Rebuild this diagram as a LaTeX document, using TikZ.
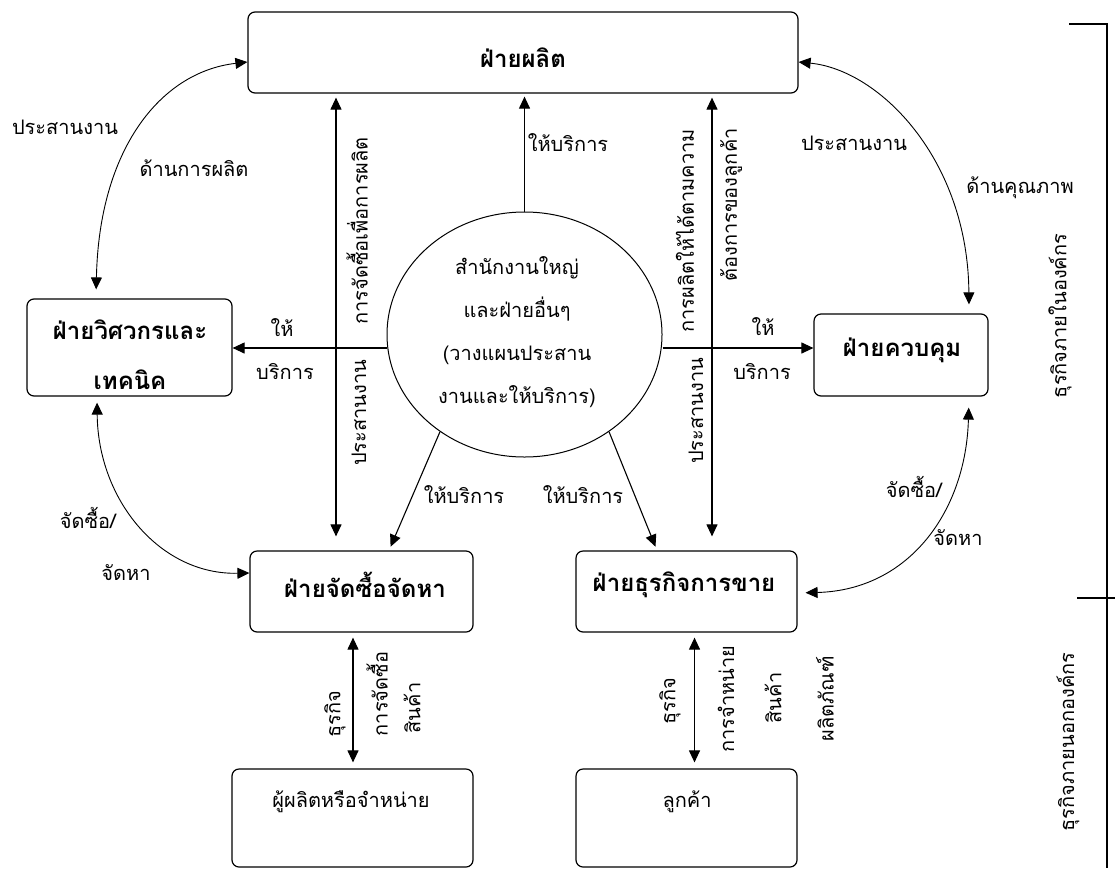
\documentclass[tikz,border=0pt]{standalone}
\usepackage{fontspec}
\usetikzlibrary{arrows.meta,shapes.geometric,calc}
\newfontfamily\thai[Script=Thai]{Loma}
\tikzset{
  hd/.tip={Triangle[length=12pt,width=11pt]},
  box/.style={draw,line width=1.2pt,rounded corners=7pt,inner sep=0pt},
  txt/.style={font=\thai\fontsize{20}{24}\selectfont,inner sep=0pt},
  btxt/.style={font=\thai\bfseries\fontsize{24}{28}\selectfont,inner sep=0pt},
  vtxt/.style={txt,rotate=90},
  link/.style={line width=1.1pt,-hd},
  twoway/.style={line width=1.1pt,hd-hd},
  curvelink/.style={line width=0.9pt,hd-hd},
  bracketline/.style={line width=1.3pt}
}
\begin{document}
\begin{tikzpicture}[x=1pt,y=-1pt]
\useasboundingbox (0,0) rectangle (1115,868);

% departments
\node[box,minimum width=550pt,minimum height=81pt] (prod) at (523,52.5) {};
\node[btxt] (prodt) at (523,58) {ฝ่ายผลิต};
\node[box,minimum width=205pt,minimum height=97pt] (eng) at (129.5,347.5) {};
\node[btxt] (engt1) at (130,330) {ฝ่ายวิศวกรและ};
\node[btxt] (engt2) at (130,380) {เทคนิค};
\node[box,minimum width=174pt,minimum height=82pt] (ctrl) at (901,355) {};
\node[btxt] (ctrlt) at (902,350) {ฝ่ายควบคุม};
\node[box,minimum width=223pt,minimum height=81pt] (pur) at (361.5,591.5) {};
\node[btxt] (purt) at (365,585) {ฝ่ายจัดซื้อจัดหา};
\node[box,minimum width=221pt,minimum height=81pt] (sales) at (686.5,591.5) {};
\node[btxt] (salest) at (684,585) {ฝ่ายธุรกิจการขาย};
\node[box,minimum width=241pt,minimum height=98pt] (supp) at (352.5,818) {};
\node[txt] (suppt) at (351,802) {ผู้ผลิตหรือจำหน่าย};
\node[box,minimum width=221pt,minimum height=98pt] (cust) at (686.5,818) {};
\node[txt] (custt) at (687,802) {ลูกค้า};

% head office
\node[draw,ellipse,line width=1pt,minimum width=275pt,minimum height=245pt,inner sep=0pt] (hq) at (524.5,334.5) {};
\node[txt,align=center,font=\thai\fontsize{20}{43}\selectfont] (hqt) at (517,332)
  {สำนักงานใหญ่\\และฝ่ายอื่นๆ\\(วางแผนประสาน\\งานและให้บริการ)};

% service links from the head office
\draw[link,shorten >=3pt] (hq.north) -- (hq.north |- prod.south);
\path (hq.west) ++(0,13.5) coordinate (hqL);
\path (hq.east) ++(0,13.5) coordinate (hqR);
\draw[link] (hqL) -- (hqL -| eng.east);
\draw[link] (hqR) -- (hqR -| ctrl.west);
\path ($(pur.north)+(27.5,0)$) coordinate (purIn);
\path ($(sales.north)+(-29.5,0)$) coordinate (salesIn);
\draw[link,shorten >=4pt] (hq.229) -- (purIn);
\draw[link,shorten >=4pt] (hq.311) -- (salesIn);

% coordination between production and the lower departments
\coordinate (colL) at (336,0);
\coordinate (colR) at (712,0);
\draw[twoway,shorten <=4pt,shorten >=14pt] (colL |- prod.south) -- (colL |- pur.north);
\draw[twoway,shorten <=4pt,shorten >=14pt] (colR |- prod.south) -- (colR |- sales.north);

% outer curved links
\draw[curvelink,shorten <=9pt] (eng.north -| 96,0) .. controls (99,150) and (160,72) .. (prod.west |- 0,62);
\draw[curvelink,shorten >=9pt] (prod.east |- 0,62) .. controls (880,70) and (968,160) .. (ctrl.north -| 969,0);
\draw[curvelink,shorten <=6pt] (eng.south -| 97,0) .. controls (98,500) and (160,575) .. (pur.west |- 0,573);
\draw[curvelink,shorten <=11pt,shorten >=8pt] (ctrl.south -| 969,0) .. controls (966,510) and (910,590) .. (sales.east |- 0,593);

% external business links
\coordinate (colS) at (353,0);
\coordinate (colC) at (694.5,0);
\draw[twoway,shorten <=5pt,shorten >=6pt] (colS |- pur.south) -- (colS |- supp.north);
\draw[twoway,shorten <=5pt,shorten >=6pt] (colC |- sales.south) -- (colC |- cust.north);

% labels
\node[txt] (l1) at (65,127) {ประสานงาน};
\node[txt] (l2) at (194,168) {ด้านการผลิต};
\node[txt] (l3) at (854,143) {ประสานงาน};
\node[txt] (l4) at (1020,188) {ด้านคุณภาพ};
\node[txt] (l5) at (568,143) {ให้บริการ};
\node[txt] (l6) at (282,328) {ให้};
\node[txt] (l7) at (285,372) {บริการ};
\node[txt] (l8) at (763,327) {ให้};
\node[txt] (l9) at (762,372) {บริการ};
\node[txt] (l10) at (464,495) {ให้บริการ};
\node[txt] (l11) at (583,495) {ให้บริการ};
\node[txt] (l12) at (88,518) {จัดซื้อ/};
\node[txt] (l13) at (126,573) {จัดหา};
\node[txt] (l14) at (914,487) {จัดซื้อ/};
\node[txt] (l15) at (958,538) {จัดหา};

\node[vtxt] (v1) at (357,231) {การจัดซื้อเพื่อการผลิต};
\node[vtxt] (v2) at (359,413) {ประสานงาน};
\node[vtxt] (v3) at (685,231) {การผลิตให้ได้ตามความ};
\node[vtxt] (v4) at (696,411) {ประสานงาน};
\node[vtxt] (v5) at (731,205) {ต้องการของลูกค้า};
\node[vtxt] (v6) at (335,714) {ธุรกิจ};
\node[vtxt] (v7) at (377,694) {การจัดซื้อ};
\node[vtxt] (v8) at (412,708) {สินค้า};
\node[vtxt] (v9) at (670,701) {ธุรกิจ};
\node[vtxt] (v10) at (726,699) {การจำหน่าย};
\node[vtxt] (v11) at (773,698) {สินค้า};
\node[vtxt] (v12) at (825,699) {ผลิตภัณฑ์};

% internal / external business bracket
\draw[bracketline] (1069,24) -- (1107,24) -- (1107,868);
\draw[bracketline] (1077,598) -- (1115,598);
\node[vtxt] (inside) at (1060,316) {ธุรกิจภายในองค์กร};
\node[vtxt] (outside) at (1068,742) {ธุรกิจภายนอกองค์กร};
\end{tikzpicture}
\end{document}
